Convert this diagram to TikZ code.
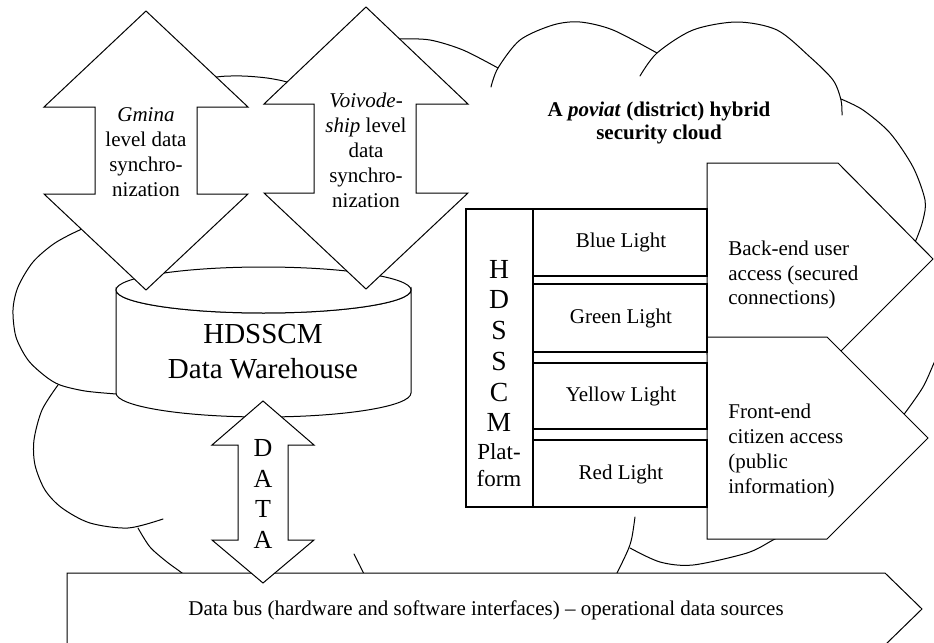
\documentclass[tikz,border=0pt]{standalone}
\usepackage{fontspec}
\setmainfont{Liberation Serif}

\begin{document}
\begin{tikzpicture}[x=0.5pt,y=-0.5pt,
    puff/.style={line width=0.5pt, line cap=round},
    blk/.style={draw, fill=white, line width=0.5pt, line join=miter},
    cell/.style={draw, fill=white, line width=0.7pt},
    lbl/.style={font=\fontsize{10.5}{12.4}\selectfont, align=center, inner sep=0pt}]
    \useasboundingbox (0,0) rectangle (934,643);
    \clip (0,0) rectangle (934,643);

    % Cloud outline (puffs)
    \draw[puff] plot[smooth] coordinates {(200,84) (217,77) (242,76) (267,78) (287,82) (300,88)};
    \draw[puff] plot[smooth] coordinates {(385,41) (400,39) (430,40) (463,50) (498,68)};
    \draw[puff] plot[smooth] coordinates {(491,87) (498,68) (520,40) (553,25) (580,22) (613,30) (657,53)};
    \draw[puff] plot[smooth] coordinates {(640,76) (657,53) (693,30) (737,22) (777,30) (810,57) (833,80) (841,100) (842,115)};
    \draw[puff] plot[smooth] coordinates {(841,99) (863,110) (890,133) (913,167) (925,200) (923,220) (916,240) (905,262)};
    \draw[puff] plot[smooth] coordinates {(940,350) (934,363) (923,387) (905,413) (895,425)};
    \draw[puff] plot[smooth] coordinates {(790,531) (773,540) (747,553) (693,565) (660,562) (630,548)};
    \draw[puff] plot[smooth] coordinates {(635,517) (632,537) (628,550) (617,573) (610,585)};
    \draw[puff] plot[smooth] coordinates {(354,554) (363,572) (366,580)};
    \draw[puff] plot[smooth] coordinates {(138,528) (150,547) (167,562) (182,573) (192,582)};
    \draw[puff] plot[smooth] coordinates {(58,385) (42,410) (34,440) (35,465) (45,490) (62,508) (90,523) (128,528) (163,519)};
    \draw[puff] plot[smooth] coordinates {(95,226) (82,229) (55,243) (33,262) (18,287) (13,310) (16,337) (28,360) (45,376) (60,385) (85,391) (116,394) (130,395)};

    % Access arrows
    \draw[blk] (707,163) -- (838,163) -- (933,259) -- (838,354) -- (707,354) -- cycle;
    \draw[blk] (707,337) -- (827,337) -- (928,438) -- (827,539) -- (707,539) -- cycle;

    % Platform and lights
    \draw[cell] (466,209) rectangle (533,507);
    \draw[cell] (533,209) rectangle (707,276);
    \draw[cell] (533,284) rectangle (707,352);
    \draw[cell] (533,363) rectangle (707,429);
    \draw[cell] (533,440) rectangle (707,507);

    % Data warehouse
    \draw[blk] (116,290) -- (116,393) arc[start angle=180, end angle=0, x radius=147.5, y radius=24]
        -- (411,290) arc[start angle=0, end angle=180, x radius=147.5, y radius=23] -- cycle;
    \draw[blk] (263.5,290) ellipse[x radius=147.5, y radius=23];

    % Synchronization arrows
    \draw[blk] (146,11) -- (248,107) -- (197,107) -- (197,194) -- (248,194) -- (146,290)
        -- (44,194) -- (95,194) -- (95,107) -- (44,107) -- cycle;
    \draw[blk] (366,7) -- (468,104) -- (416,104) -- (416,193) -- (468,193) -- (366,289)
        -- (264,193) -- (314,193) -- (314,104) -- (264,104) -- cycle;

    % Data bus
    \draw[blk] (67,573) -- (885,573) -- (922,609) -- (885,645) -- (67,645) -- cycle;

    % DATA arrow
    \draw[blk] (263,401) -- (314,445) -- (288,445) -- (288,540) -- (314,540) -- (263,583)
        -- (212,540) -- (238,540) -- (238,445) -- (212,445) -- cycle;

    % Labels
    \node[lbl] (gmina) at (146,152) {\textit{Gmina}\\level data\\synchro-\\nization};
    \node[lbl, font=\fontsize{10.5}{12.5}\selectfont] (voiv) at (366,150) {\textit{Voivode-}\\\textit{ship} level\\data\\synchro-\\nization};
    \node[lbl, font=\fontsize{10.5}{11.6}\selectfont\bfseries] (cloud) at (659,123) {A \textit{poviat} (district) hybrid\\security cloud};
    \node[lbl, font=\fontsize{14.5}{17.5}\selectfont] (dw) at (263,352) {HDSSCM\\Data Warehouse};
    \node[lbl, font=\fontsize{13.8}{15.35}\selectfont] (hds) at (499,346) {H\\D\\S\\S\\C\\M};
    \node[lbl, font=\fontsize{11.5}{13.5}\selectfont] (plat) at (499,465) {Plat-\\form};
    \node[lbl] (blue) at (621,242) {Blue Light};
    \node[lbl] (green) at (621,318) {Green Light};
    \node[lbl] (yellow) at (621,396) {Yellow Light};
    \node[lbl] (red) at (621,474) {Red Light};
    \node[lbl, align=left, anchor=west] (back) at (728,275) {Back-end user\\access (secured\\connections)};
    \node[lbl, align=left, anchor=west] (front) at (728,451) {Front-end\\citizen access\\(public\\information)};
    \node[lbl, font=\fontsize{13}{15.35}\selectfont] (data) at (263,494) {D\\A\\T\\A};
    \node[lbl] (bus) at (486,610) {Data bus (hardware and software interfaces) -- operational data sources};
\end{tikzpicture}
\end{document}
